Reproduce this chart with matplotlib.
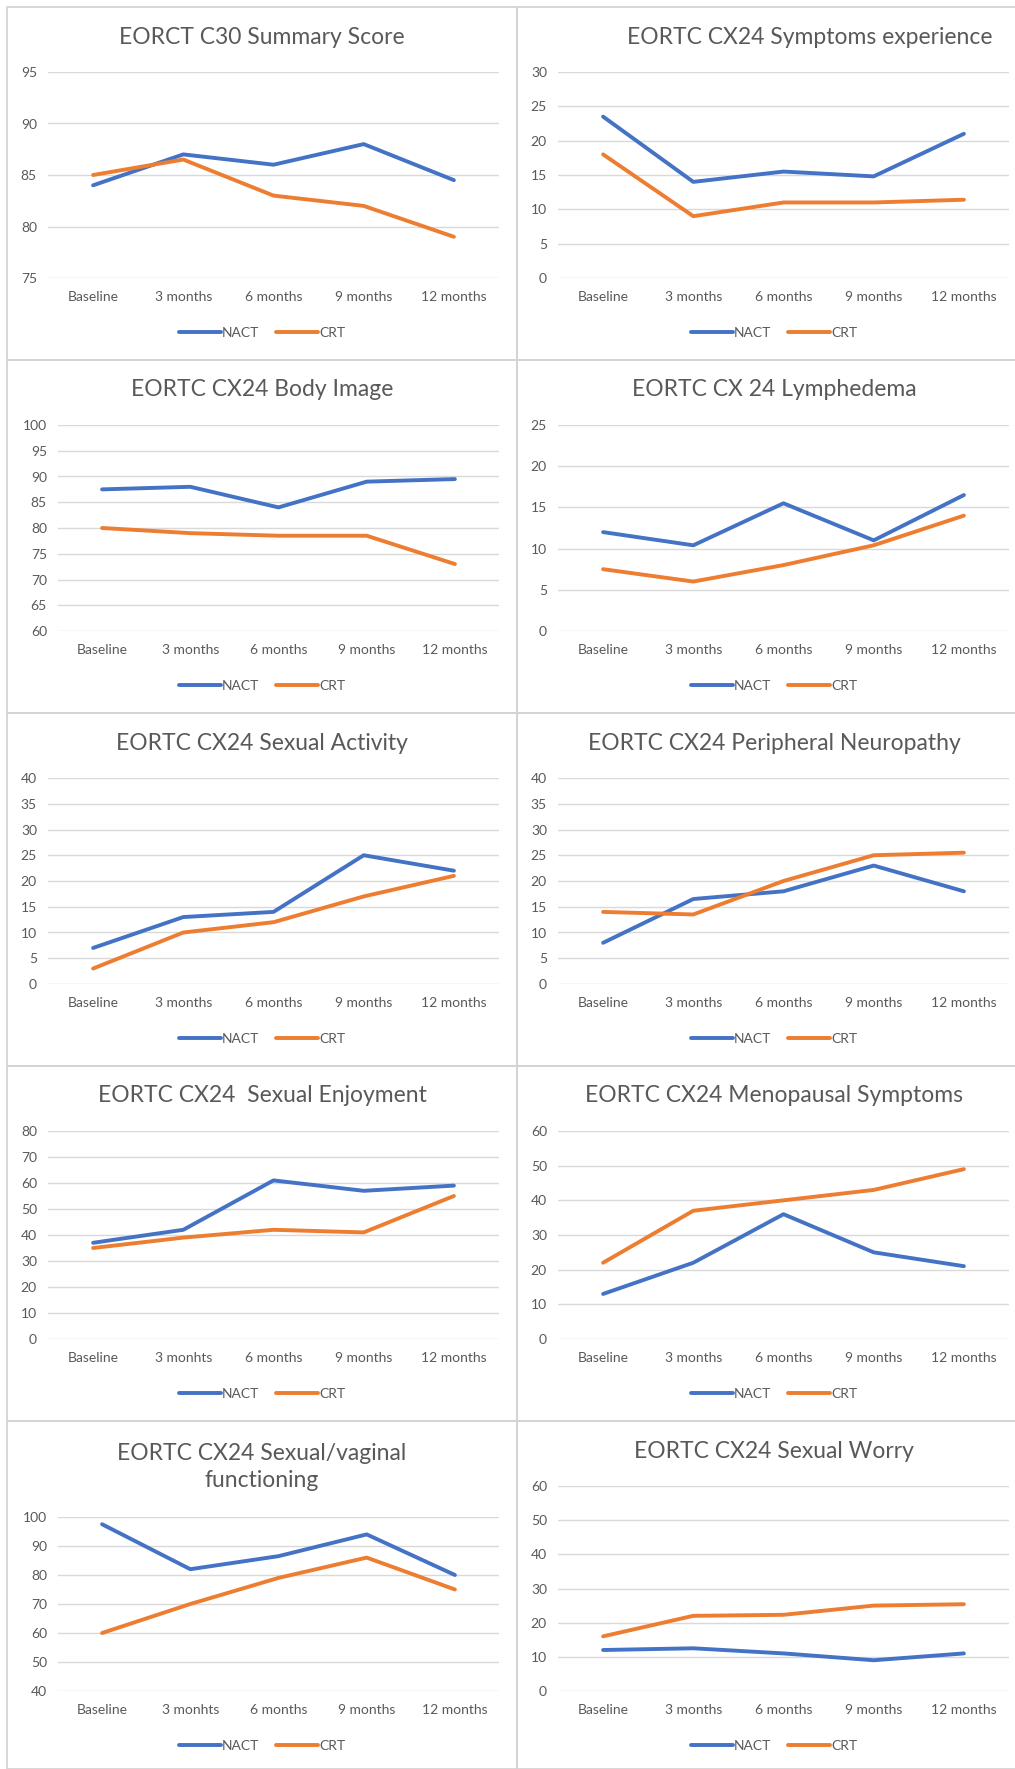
import matplotlib
matplotlib.use('Agg')
import matplotlib.pyplot as plt
from matplotlib.patches import Rectangle

plt.rcParams['font.family'] = ['Lato', 'DejaVu Sans']

NACT_COLOR = '#4472C4'
CRT_COLOR = '#ED7D31'
TEXT_COLOR = '#595959'
GRID_COLOR = '#D9D9D9'

months = ['Baseline', '3 months', '6 months', '9 months', '12 months']
months_typo = ['Baseline', '3 monhts', '6 months', '9 months', '12 months']

titles = [
    'EORCT C30 Summary Score',
    'EORTC CX24 Symptoms experience',
    'EORTC CX24 Body Image',
    'EORTC CX 24 Lymphedema',
    'EORTC CX24 Sexual Activity',
    'EORTC CX24 Peripheral Neuropathy',
    'EORTC CX24  Sexual Enjoyment',
    'EORTC CX24 Menopausal Symptoms',
    'EORTC CX24 Sexual/vaginal\nfunctioning',
    'EORTC CX24 Sexual Worry',
]

nact = [
    [84, 87, 86, 88, 84.5],
    [23.5, 14, 15.5, 14.8, 21],
    [87.5, 88, 84, 89, 89.5],
    [12, 10.4, 15.5, 11, 16.5],
    [7, 13, 14, 25, 22],
    [8, 16.5, 18, 23, 18],
    [37, 42, 61, 57, 59],
    [13, 22, 36, 25, 21],
    [97.5, 82, 86.5, 94, 80],
    [12, 12.5, 11, 9, 11],
]
crt = [
    [85, 86.5, 83, 82, 79],
    [18, 9, 11, 11, 11.4],
    [80, 79, 78.5, 78.5, 73],
    [7.5, 6, 8, 10.4, 14],
    [3, 10, 12, 17, 21],
    [14, 13.5, 20, 25, 25.5],
    [35, 39, 42, 41, 55],
    [22, 37, 40, 43, 49],
    [60, 70, 79, 86, 75],
    [16, 22, 22.3, 25, 25.4],
]
# (min, max, step) of each value axis
y_axes = [
    (75, 95, 5), (0, 30, 5), (60, 100, 5), (0, 25, 5), (0, 40, 5),
    (0, 40, 5), (0, 80, 10), (0, 60, 10), (40, 100, 10), (0, 60, 10),
]
categories = [months, months, months, months, months,
              months, months_typo, months, months_typo, months]

W, H = 1015, 1769
fig = plt.figure(figsize=(W / 100, H / 100), dpi=100)
fig.patch.set_facecolor('white')


def fx(px):
    return px / W


def fy(py):
    return 1 - py / H


row_tops = [7, 360, 713, 1066, 1421, H]
col_x = [(7, 517), (517, 1031)]
title_shift = {1: 36}

for i in range(10):
    row, col = i // 2, i % 2
    x0, x1 = col_x[col]
    top, bottom = row_tops[row], row_tops[row + 1]
    # panel frame
    fig.patches.append(Rectangle((fx(x0), fy(bottom)), fx(x1 - x0), (bottom - top) / H,
                                 transform=fig.transFigure, fill=False,
                                 edgecolor='#D4D4D4', lw=1.3))
    ymin, ymax, step = y_axes[i]
    two_line = '\n' in titles[i]
    left = x0 + (51 if ymax >= 100 else 41)
    right = x0 + 492
    ptop = top + (96 if two_line else 65)
    pbot = bottom - (78 if row == 4 else 82)
    ax = fig.add_axes([fx(left), fy(pbot), fx(right - left), (pbot - ptop) / H])
    x = list(range(len(categories[i])))
    ax.plot(x, nact[i], color=NACT_COLOR, lw=2.8, label='NACT', solid_capstyle='round')
    ax.plot(x, crt[i], color=CRT_COLOR, lw=2.8, label='CRT', solid_capstyle='round')
    ax.set_xlim(-0.5, len(x) - 0.5)
    ax.set_ylim(ymin, ymax)
    ax.set_yticks(list(range(ymin, ymax + 1, step)))
    ax.set_xticks(x)
    ax.set_xticklabels(categories[i])
    ax.grid(axis='y', color=GRID_COLOR, lw=1)
    ax.set_axisbelow(True)
    for s in ax.spines.values():
        s.set_visible(False)
    ax.tick_params(length=0, labelsize=10, colors=TEXT_COLOR)
    ax.tick_params(axis='y', pad=8)
    ax.tick_params(axis='x', pad=9)
    tcx = (x0 + x1) / 2 + title_shift.get(i, 0)
    tcy = top + (46 if two_line else 30)
    fig.text(fx(tcx), fy(tcy), titles[i], ha='center', va='center',
             fontsize=16.5, color=TEXT_COLOR, linespacing=1.3)
    ax.legend(loc='center', bbox_to_anchor=(fx((x0 + x1) / 2), fy(pbot + 55)),
              bbox_transform=fig.transFigure, ncol=2, frameon=False,
              fontsize=10, handlelength=3.0, handletextpad=0.1, columnspacing=1.2,
              labelcolor=TEXT_COLOR)

fig.savefig('out.png', dpi=100, facecolor='white')
